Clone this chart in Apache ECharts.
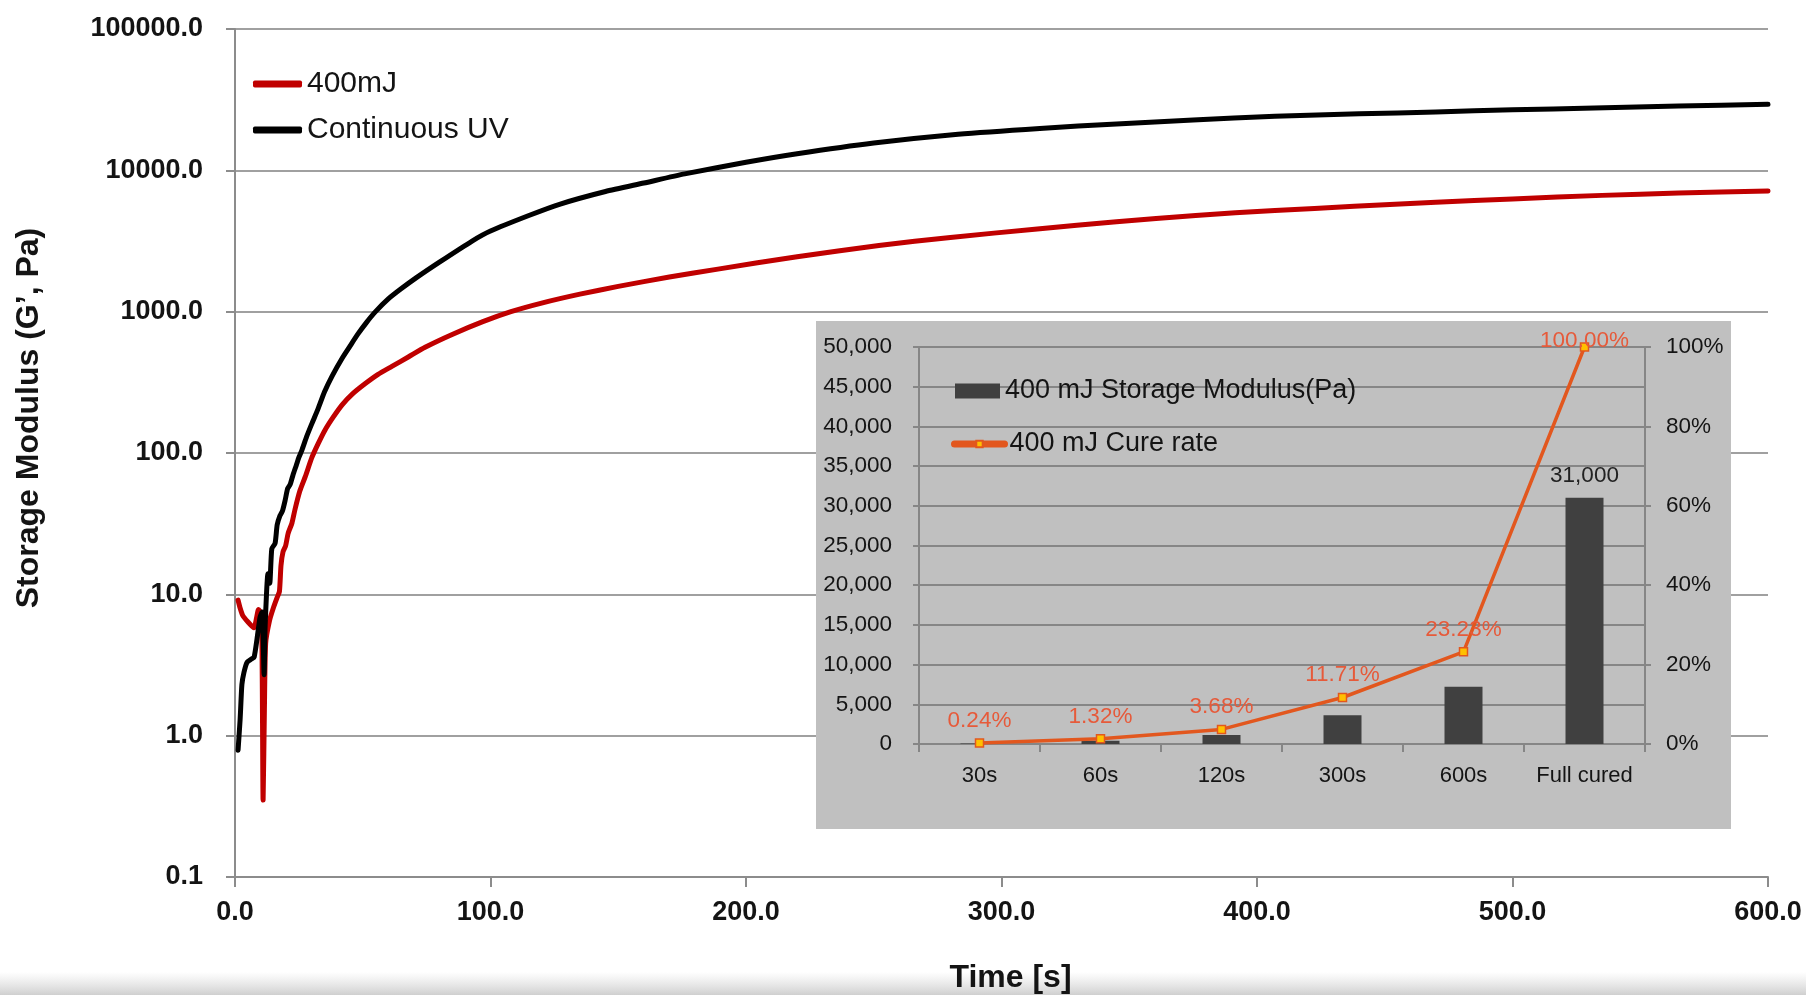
<!DOCTYPE html>
<html>
<head>
<meta charset="utf-8">
<title>Storage Modulus vs Time</title>
<script src="https://cdn.jsdelivr.net/npm/echarts@6/dist/echarts.min.js"></script>
<style>
  html, body { margin: 0; padding: 0; background: #ffffff; }
  #chart { width: 1806px; height: 995px; }
</style>
</head>
<body>
<div id="chart"></div>
<script>
// ---- Rheology curves: time [s] vs storage modulus G' [Pa] ----
const series400mJ = [
  [1.2, 9.1], [2.0, 8.0], [3.0, 7.1], [5.0, 6.4], [7.4, 5.8], [8.5, 6.9], [9.2, 7.8],
  [10.4, 7.2], [11.0, 0.35], [11.5, 1.5], [12.0, 4.5], [13.5, 6.5], [15.0, 8.0],
  [16.5, 9.5], [17.4, 10.5], [18.0, 16], [18.8, 20], [19.8, 22], [20.8, 27], [22.3, 32],
  [23.5, 40], [25.4, 54], [27.5, 68], [30.1, 93], [32.5, 116], [35.2, 145], [38.5, 180],
  [42, 220], [46, 262], [51, 310], [56, 360], [61.4, 410], [68, 480], [74.4, 560],
  [85, 690], [97, 850], [108, 1000], [120, 1150], [135, 1330], [150, 1510], [170, 1760],
  [189, 2000], [220, 2450], [252, 2940], [280, 3350], [314, 3850], [345, 4330],
  [376, 4800], [407, 5200], [438, 5560], [470, 5950], [500, 6280], [535, 6650],
  [565, 6900], [600, 7150]
];
const seriesContinuousUV = [
  [1.2, 0.79], [2.0, 1.3], [2.7, 2.3], [3.5, 2.8], [4.7, 3.3], [6.6, 3.5], [7.5, 3.6],
  [8.6, 4.8], [9.8, 6.9], [10.6, 7.5], [11.4, 2.7], [11.8, 6.0], [12.9, 14], [13.6, 12],
  [14.4, 21], [15.7, 23], [16.5, 31], [17.6, 36], [18.6, 39], [19.6, 46], [20.6, 56],
  [21.6, 60], [22.7, 70], [24, 82], [25, 93], [26.2, 105], [28, 130], [30, 160],
  [32.5, 205], [35, 270], [38, 350], [42, 470], [45, 570], [48, 690], [51.5, 840],
  [55, 1000], [60, 1230], [65, 1450], [71, 1740], [80, 2240], [92.8, 3160], [100, 3720],
  [115, 4790], [127, 5750], [145, 7080], [160, 8130], [176, 9440], [200, 11400],
  [220, 13100], [250, 15600], [283, 18000], [315, 19800], [345, 21300], [375, 22700],
  [407, 24100], [440, 25100], [470, 25900], [500, 26800], [532, 27600], [565, 28500],
  [600, 29300]
];

// ---- Inset: 400 mJ exposure summary ----
const insetCategories = ['30s', '60s', '120s', '300s', '600s', 'Full cured'];
const insetModulus = [74, 409, 1141, 3630, 7200, 31000];
const insetCureRate = [0.24, 1.32, 3.68, 11.71, 23.23, 100.0];

const FONT = '"Liberation Sans", Arial, sans-serif';
const TEXT = '#141414';

const chart = echarts.init(document.getElementById('chart'), null, { renderer: 'canvas' });

const option = {
  backgroundColor: '#ffffff',
  animation: false,
  textStyle: { fontFamily: FONT },
  grid: [
    { left: 235, top: 29, width: 1533, height: 848, outerBoundsMode: 'none', containLabel: false },
    { left: 919, top: 347, width: 726, height: 397, outerBoundsMode: 'none', containLabel: false }
  ],
  graphic: [
    {
      type: 'rect', z: 0, silent: true,
      shape: { x: 0, y: 972, width: 1806, height: 23 },
      style: {
        fill: new echarts.graphic.LinearGradient(0, 0, 0, 1, [
          { offset: 0, color: 'rgba(215,215,215,0)' },
          { offset: 1, color: 'rgba(205,205,205,0.95)' }
        ])
      }
    },
    {
      type: 'rect', z: 3, silent: true,
      shape: { x: 816, y: 321, width: 915, height: 508 },
      style: { fill: '#c0c0c0' }
    }
  ],
  legend: [
    {
      orient: 'vertical', left: 253, top: 69, itemGap: 16, z: 4, padding: 0,
      itemWidth: 49, itemHeight: 7, icon: 'roundRect',
      data: ['400mJ', 'Continuous UV'],
      textStyle: { fontSize: 30, color: TEXT, fontFamily: FONT, lineHeight: 30 }
    },
    {
      orient: 'vertical', left: 955, top: 376, z: 8, padding: 0,
      itemWidth: 45, itemHeight: 15, icon: 'rect',
      data: ['400 mJ Storage Modulus(Pa)'],
      textStyle: { fontSize: 27, color: TEXT, fontFamily: FONT, lineHeight: 30 }
    },
    {
      orient: 'vertical', left: 951, top: 429, z: 8, padding: 0,
      itemWidth: 50, itemHeight: 8,
      lineStyle: { width: 7, cap: 'round' },
      data: ['400 mJ Cure rate'],
      textStyle: { fontSize: 27, color: TEXT, fontFamily: FONT, lineHeight: 30 }
    }
  ],
  xAxis: [
    {
      type: 'value', gridIndex: 0, min: 0, max: 600, interval: 100, z: 1,
      name: 'Time [s]', nameLocation: 'middle', nameGap: 85,
      nameTextStyle: {
        fontSize: 32, fontWeight: 'bold', color: TEXT, fontFamily: FONT,
        padding: [0, 0, 0, 18]
      },
      axisLine: { show: true, onZero: false, lineStyle: { color: '#8c8c8c', width: 2 } },
      axisTick: { show: true, length: 10, lineStyle: { color: '#8c8c8c', width: 2 } },
      splitLine: { show: false },
      axisLabel: {
        fontSize: 27, fontWeight: 'bold', color: TEXT, margin: 22, fontFamily: FONT,
        formatter: v => v.toFixed(1)
      }
    },
    {
      type: 'category', gridIndex: 1, data: insetCategories, z: 5,
      axisLine: { show: true, lineStyle: { color: '#868686', width: 2 } },
      axisTick: { show: true, length: 8, lineStyle: { color: '#868686', width: 2 } },
      axisLabel: { interval: 0, fontSize: 22, color: TEXT, margin: 21, fontFamily: FONT }
    }
  ],
  yAxis: [
    {
      type: 'log', logBase: 10, gridIndex: 0, min: 0.1, max: 100000, z: 1,
      name: 'Storage Modulus (G’, Pa)', nameLocation: 'middle', nameGap: 190, nameRotate: 90,
      nameTextStyle: {
        fontSize: 32, fontWeight: 'bold', color: TEXT, fontFamily: FONT,
        padding: [0, 0, 0, 70]
      },
      axisLine: { show: true, lineStyle: { color: '#8c8c8c', width: 2 } },
      axisTick: { show: true, length: 9, lineStyle: { color: '#8c8c8c', width: 2 } },
      splitLine: { show: true, lineStyle: { color: '#a0a0a0', width: 2 } },
      minorTick: { show: false },
      axisLabel: {
        fontSize: 27, fontWeight: 'bold', color: TEXT, margin: 32, fontFamily: FONT,
        formatter: v => Number(v).toFixed(1)
      }
    },
    {
      type: 'value', gridIndex: 1, min: 0, max: 50000, interval: 5000, z: 5,
      axisLine: { show: true, lineStyle: { color: '#868686', width: 2 } },
      axisTick: { show: true, length: 6, lineStyle: { color: '#868686', width: 2 } },
      splitLine: { show: true, lineStyle: { color: '#868686', width: 2 } },
      axisLabel: {
        fontSize: 22.5, color: TEXT, margin: 27, fontFamily: FONT,
        formatter: v => v.toLocaleString('en-US')
      }
    },
    {
      type: 'value', gridIndex: 1, position: 'right', min: 0, max: 100, interval: 20, z: 5,
      axisLine: { show: true, lineStyle: { color: '#868686', width: 2 } },
      axisTick: { show: true, length: 6, lineStyle: { color: '#868686', width: 2 } },
      splitLine: { show: false },
      axisLabel: { fontSize: 22.5, color: TEXT, margin: 21, fontFamily: FONT, formatter: '{value}%' }
    }
  ],
  series: [
    {
      name: '400mJ', type: 'line', xAxisIndex: 0, yAxisIndex: 0, z: 2,
      data: series400mJ, symbol: 'none', showSymbol: false,
      smooth: 0.2,
      color: '#c00000',
      lineStyle: { color: '#c00000', width: 5, cap: 'round', join: 'round' }
    },
    {
      name: 'Continuous UV', type: 'line', xAxisIndex: 0, yAxisIndex: 0, z: 2,
      data: seriesContinuousUV, symbol: 'none', showSymbol: false,
      smooth: 0.2,
      color: '#000000',
      lineStyle: { color: '#000000', width: 5, cap: 'round', join: 'round' }
    },
    {
      name: '400 mJ Storage Modulus(Pa)', type: 'bar', xAxisIndex: 1, yAxisIndex: 1, z: 6,
      barWidth: 38, color: '#404040',
      itemStyle: { color: '#404040' },
      data: insetModulus.map((v, i) => i === insetModulus.length - 1
        ? { value: v, label: { show: true } }
        : v),
      label: {
        show: false, position: 'top', distance: 11, fontSize: 22.5, color: '#222222',
        fontFamily: FONT, formatter: p => p.value.toLocaleString('en-US')
      }
    },
    {
      name: '400 mJ Cure rate', type: 'line', xAxisIndex: 1, yAxisIndex: 2, z: 7,
      color: '#e2571e',
      symbol: 'rect', symbolSize: 8,
      itemStyle: { color: '#ffc000', borderColor: '#e2571e', borderWidth: 1.5 },
      lineStyle: { color: '#e2571e', width: 3.5 },
      data: insetCureRate.map((v, i) => i === insetCureRate.length - 1
        ? { value: v, label: { distance: -10 } }
        : v),
      label: {
        show: true, position: 'top', distance: 6, fontSize: 22.5, color: '#e65a3a',
        fontFamily: FONT, formatter: p => Number(p.value).toFixed(2) + '%'
      }
    }
  ]
};

chart.setOption(option);
</script>
</body>
</html>
